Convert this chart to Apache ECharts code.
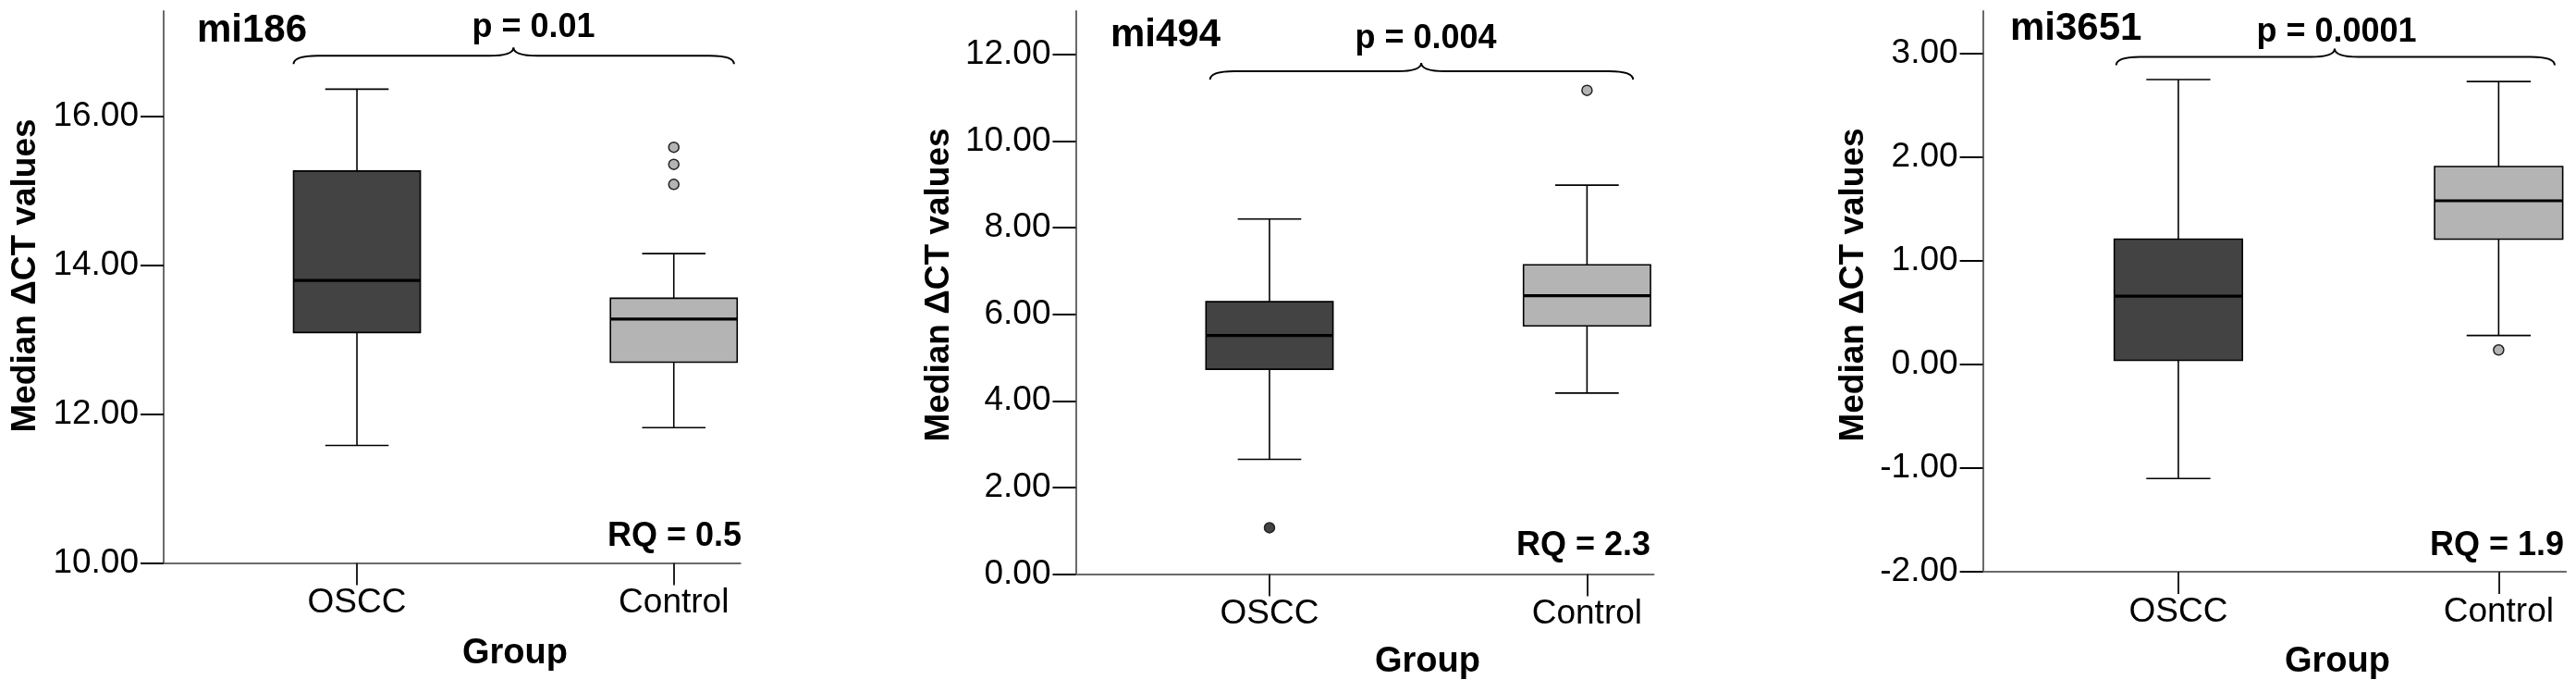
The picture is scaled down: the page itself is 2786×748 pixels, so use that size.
<!DOCTYPE html>
<html><head><meta charset="utf-8">
<script src="https://cdn.jsdelivr.net/npm/echarts@6/dist/echarts.min.js"></script>
<style>html,body{margin:0;padding:0;background:#fff}#c{width:2786px;height:748px}</style>
</head><body><div id="c"></div>
<script>
// ---- data ----
const groups = ['OSCC', 'Control'];
// five-number summaries per group: [min, Q1, median, Q3, max]
const mi186Box = [[11.58, 13.10, 13.80, 15.27, 16.37], [11.82, 12.70, 13.28, 13.56, 14.16]];
const mi186Outliers = [[], [15.09, 15.36, 15.59]];
const mi494Box = [[2.65, 4.73, 5.51, 6.29, 8.20], [4.18, 5.73, 6.43, 7.14, 8.98]];
const mi494Outliers = [[1.07], [11.17]];
const mi3651Box = [[-1.10, 0.04, 0.66, 1.21, 2.75], [0.28, 1.21, 1.58, 1.91, 2.73]];
const mi3651Outliers = [[], [0.14]];
const mi186Ticks = [10, 12, 14, 16];
const mi494Ticks = [0, 2, 4, 6, 8, 10, 12];
const mi3651Ticks = [-2, -1, 0, 1, 2, 3];
const panelTitles = ['mi186', 'mi494', 'mi3651'];
const pTexts = ['p = 0.01', 'p = 0.004', 'p = 0.0001'];
const rqTexts = ['RQ = 0.5', 'RQ = 2.3', 'RQ = 1.9'];
const yTitle = 'Median ΔCT values';
const xTitle = 'Group';

// ---- layout / style ----
const FONT = '"Liberation Sans", Arial, sans-serif';
const boxColors = ['#434343', '#b4b4b4'];
const panels = [
  { box: mi186Box, out: mi186Outliers, ticks: mi186Ticks, yMin: 10, yMax: 17.42,
    grid: { left: 177, top: 12, width: 623.7, height: 596.6 },
    bracket: [0.80, 2.19, 1.494, 16.82],
    titleXY: [213, 33], pXY: [577, 30], rqXY: [802, 580], groupXY: [557, 707], yTitleXY: [27.5, 298] },
  { box: mi494Box, out: mi494Outliers, ticks: mi494Ticks, yMin: 0, yMax: 13,
    grid: { left: 1163.5, top: 12, width: 625, height: 608.5 },
    bracket: [0.813, 2.145, 1.478, 11.61],
    titleXY: [1201, 38], pXY: [1542, 42], rqXY: [1785, 590], groupXY: [1544, 716], yTitleXY: [1016, 308] },
  { box: mi3651Box, out: mi3651Outliers, ticks: mi3651Ticks, yMin: -2, yMax: 3.41,
    grid: { left: 2144.6, top: 12, width: 630.5, height: 606 },
    bracket: [0.806, 2.175, 1.488, 2.968],
    titleXY: [2174, 31], pXY: [2527, 35], rqXY: [2773, 590], groupXY: [2528, 716], yTitleXY: [2004.5, 308] }
];

function renderBox(params, api) {
  const x = api.value(0), mn = api.value(1), q1 = api.value(2), md = api.value(3), q3 = api.value(4), mx = api.value(5);
  const ci = api.value(6);
  const hw = 0.2, cw = 0.1;
  const c = (a, b) => api.coord([a, b]);
  const xc = c(x, md)[0];
  const l = c(x - hw, md)[0], r = c(x + hw, md)[0];
  const cl = c(x - cw, md)[0], cr = c(x + cw, md)[0];
  const yMin = c(x, mn)[1], yQ1 = c(x, q1)[1], yMd = c(x, md)[1], yQ3 = c(x, q3)[1], yMax = c(x, mx)[1];
  const ls = { stroke: '#000', lineWidth: 1.6 };
  return {
    type: 'group',
    children: [
      { type: 'line', shape: { x1: xc, y1: yMax, x2: xc, y2: yQ3 }, style: ls },
      { type: 'line', shape: { x1: xc, y1: yQ1, x2: xc, y2: yMin }, style: ls },
      { type: 'line', shape: { x1: cl, y1: yMax, x2: cr, y2: yMax }, style: ls },
      { type: 'line', shape: { x1: cl, y1: yMin, x2: cr, y2: yMin }, style: ls },
      { type: 'rect', shape: { x: l, y: yQ3, width: r - l, height: yQ1 - yQ3 },
        style: { fill: boxColors[ci], stroke: '#000', lineWidth: 1.6 } },
      { type: 'line', shape: { x1: l, y1: yMd, x2: r, y2: yMd }, style: { stroke: '#000', lineWidth: 3.2 } }
    ]
  };
}

function renderBracket(params, api) {
  const x0 = api.value(0), x1 = api.value(1), xm = api.value(2), y = api.value(3);
  const a = api.coord([x0, y]), b = api.coord([x1, y]), m = api.coord([xm, y]);
  const Y = a[1], d = 9, k = 26;
  const path = `M${a[0]},${Y + d} Q${a[0]},${Y} ${a[0] + k},${Y} L${m[0] - k},${Y} Q${m[0]},${Y} ${m[0]},${Y - d} ` +
    `Q${m[0]},${Y} ${m[0] + k},${Y} L${b[0] - k},${Y} Q${b[0]},${Y} ${b[0]},${Y + d}`;
  return { type: 'path', shape: { pathData: path }, style: { stroke: '#000', fill: null, lineWidth: 2 } };
}

const grids = [], xAxes = [], yAxes = [], series = [], graphics = [];
panels.forEach((p, i) => {
  grids.push(Object.assign({ containLabel: false }, p.grid));
  xAxes.push({
    type: 'value', gridIndex: i, min: 0.39, max: 2.21,
    splitLine: { show: false },
    axisLine: { show: true, onZero: false, lineStyle: { color: '#6a6a6a', width: 2 } },
    axisTick: { show: true, customValues: [1, 2], length: 24, lineStyle: { color: '#222', width: 2 } },
    axisLabel: { show: true, customValues: [1, 2], margin: 25, color: '#000', fontSize: 37, fontFamily: FONT,
      formatter: v => groups[Math.round(v) - 1] }
  });
  yAxes.push({
    type: 'value', gridIndex: i, min: p.yMin, max: p.yMax,
    splitLine: { show: false },
    axisLine: { show: true, onZero: false, lineStyle: { color: '#6a6a6a', width: 2 } },
    axisTick: { show: true, customValues: p.ticks, length: 25, lineStyle: { color: '#000', width: 2 } },
    axisLabel: { show: true, customValues: p.ticks, margin: 27, color: '#000', fontSize: 37, fontFamily: FONT,
      formatter: v => v.toFixed(2) }
  });
  series.push({
    type: 'custom', xAxisIndex: i, yAxisIndex: i, renderItem: renderBox, silent: true,
    encode: { x: 0, y: [1, 2, 3, 4, 5] },
    data: p.box.map((b, g) => [g + 1].concat(b).concat([g]))
  });
  p.out.forEach((vals, g) => {
    if (!vals.length) return;
    series.push({
      type: 'scatter', xAxisIndex: i, yAxisIndex: i, symbol: 'circle', symbolSize: 11, silent: true,
      itemStyle: { color: boxColors[g], borderColor: '#222', borderWidth: 1.5, opacity: 1 },
      data: vals.map(v => [g + 1, v])
    });
  });
  series.push({
    type: 'custom', xAxisIndex: i, yAxisIndex: i, renderItem: renderBracket, silent: true,
    encode: { x: [0, 1], y: 3 },
    data: [p.bracket]
  });
  graphics.push(
    { type: 'text', x: p.titleXY[0], y: p.titleXY[1], style: { text: panelTitles[i], fill: '#000',
      font: 'bold 42px ' + FONT, textAlign: 'left', textVerticalAlign: 'middle' } },
    { type: 'text', x: p.pXY[0], y: p.pXY[1], style: { text: pTexts[i], fill: '#000',
      font: 'bold 36px ' + FONT, textAlign: 'center', textVerticalAlign: 'middle' } },
    { type: 'text', x: p.rqXY[0], y: p.rqXY[1], style: { text: rqTexts[i], fill: '#000',
      font: 'bold 36px ' + FONT, textAlign: 'right', textVerticalAlign: 'middle' } },
    { type: 'text', x: p.groupXY[0], y: p.groupXY[1], style: { text: xTitle, fill: '#000',
      font: 'bold 38px ' + FONT, textAlign: 'center', textVerticalAlign: 'middle' } },
    { type: 'text', x: p.yTitleXY[0], y: p.yTitleXY[1], rotation: Math.PI / 2, style: { text: yTitle, fill: '#000',
      font: 'bold 37px ' + FONT, textAlign: 'center', textVerticalAlign: 'middle' } }
  );
});

const chart = echarts.init(document.getElementById('c'), null, { renderer: 'canvas' });
chart.setOption({
  backgroundColor: '#fff',
  animation: false,
  grid: grids, xAxis: xAxes, yAxis: yAxes, series: series, graphic: graphics
});
</script>
</body></html>
